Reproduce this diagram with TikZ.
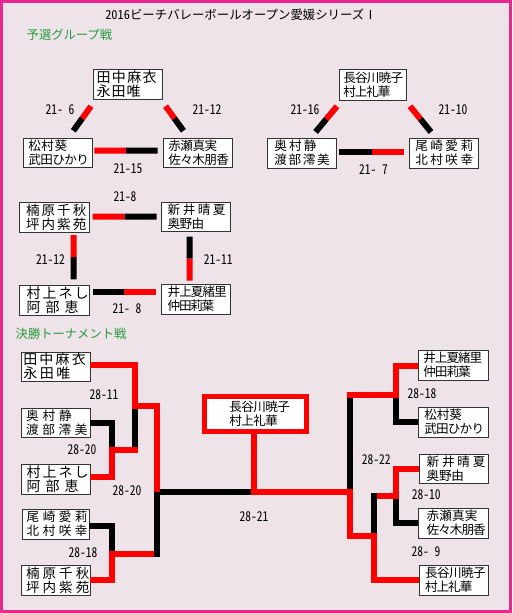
\documentclass[tikz,border=0pt]{standalone}
\usepackage{fontspec}
\usepackage{graphicx}
\setmainfont{Noto Sans CJK JP}
\newfontfamily\lblfont[RawFeature=+hwid]{Noto Sans CJK JP}
\usetikzlibrary{calc}
\definecolor{bgc}{RGB}{237,227,233}
\definecolor{frm}{RGB}{232,40,140}
\definecolor{hdr}{RGB}{40,155,60}
\newcommand\sprd[2]{\def\sprdw{#1pt}\sprdA#2\relax}
\def\sprdA#1{\ifx\relax#1\else\makebox[\sprdw][l]{#1}\expandafter\sprdA\fi}
\newcommand\lblx[1]{\scalebox{0.85}[1]{#1}}
\newcommand\duo[4]{\draw[cw,#3] (#1) -- ($(#1)!0.5!(#2)$); \draw[cw,#4] ($(#1)!0.5!(#2)$) -- (#2);}
\begin{document}
\begin{tikzpicture}[x=1pt,y=-1pt,
  nbox/.style={draw=black!80, line width=1pt, fill=white, inner ysep=0pt, outer sep=0pt, align=left, anchor=north west, font=\fontsize{12.6}{14}\selectfont},
  bigf/.style={font=\fontsize{14}{14}\selectfont},
  midf/.style={font=\fontsize{13.5}{14}\selectfont},
  wbox/.style={draw=red, line width=5pt, fill=white, inner ysep=0pt, outer sep=0pt, align=left, font=\fontsize{12.6}{14}\selectfont},
  lbl/.style={font=\lblfont\fontsize{13.5}{14}\selectfont, inner sep=0pt},
  hd/.style={text=hdr, font=\fontsize{12.3}{14}\selectfont, anchor=west, inner sep=0pt},
  cw/.style={line width=6pt, red, line cap=butt, line join=miter},
  cl/.style={line width=6pt, black, line cap=butt, line join=miter},
]
\useasboundingbox (0,0) rectangle (512,613);
\fill[bgc] (0,0) rectangle (512,613);
\draw[frm, line width=3.4pt] (1.7,1.7) rectangle (510.3,611.3);

% headings
\node[font=\lblfont\fontsize{12.4}{14}\selectfont, inner sep=0pt] (title) at (241,15.2) {2016ビーチバレーボールオープン愛媛シリーズⅠ};
\node[hd] (h1) at (26.5,34.7) {予選グループ戦};
\node[hd] (h2) at (15.5,334) {決勝トーナメント戦};

% group 1
\node[nbox, bigf, minimum width=69pt, minimum height=30pt, inner xsep=3.7pt, text width=61.6pt] (A) at (93,69) {\sprd{15.3}{田中麻衣}\\\sprd{15}{永田唯}};
\node[nbox, minimum width=69pt, minimum height=29pt, inner xsep=5.3pt, text width=58.4pt] (B) at (23,138) {\sprd{13.2}{松村葵}\\\sprd{12}{武田ひかり}};
\node[nbox, minimum width=69pt, minimum height=29pt, inner xsep=5.3pt, text width=58.4pt] (C) at (163,138) {\sprd{12.1}{赤瀬真実}\\\sprd{12}{佐々木朋香}};
% group 2
\node[nbox, minimum width=67pt, minimum height=31pt, inner xsep=4.3pt, text width=58.4pt] (D) at (339,69) {\sprd{11.8}{長谷川暁子}\\\sprd{11.5}{村上礼華}};
\node[nbox, minimum width=69pt, minimum height=30pt, inner xsep=7.3pt, text width=54.4pt] (E) at (267,138) {\sprd{14.8}{奥村静}\\\sprd{14.3}{渡部澪美}};
\node[nbox, minimum width=69pt, minimum height=30pt, inner xsep=6.3pt, text width=56.4pt] (F) at (409,138) {\sprd{15.1}{尾崎愛莉}\\\sprd{15.1}{北村咲幸}};
% group 3
\node[nbox, midf, minimum width=70pt, minimum height=30pt, inner xsep=7pt, text width=56pt] (G) at (19,202) {\sprd{15.6}{楠原千秋}\\\sprd{15.6}{坪内紫苑}};
\node[nbox, minimum width=69pt, minimum height=29pt, inner xsep=6.7pt, text width=55.6pt] (H) at (161,202) {\sprd{15.1}{新井晴夏}\\\sprd{11.9}{奥野由}};
\node[nbox, bigf, minimum width=70pt, minimum height=30pt, inner xsep=7.7pt, text width=54.6pt] (I) at (19,285) {\sprd{16}{村上ネし}\\\sprd{19}{阿部恵}};
\node[nbox, minimum width=69pt, minimum height=30pt, inner xsep=6.7pt, text width=55.6pt] (J) at (161,284) {\sprd{11.6}{井上夏緒里}\\\sprd{11.3}{仲田莉葉}};

% group connectors
\coordinate (ab1) at ($(A.south west)+(-2,7.2)$);
\coordinate (ab2) at ($(B.north east)+(-18.7,-7.2)$);
\duo{ab1}{ab2}{red}{black}
\coordinate (ac1) at ($(A.south east)+(3.6,7.2)$);
\coordinate (ac2) at ($(C.north west)+(20.4,-7.2)$);
\duo{ac1}{ac2}{red}{black}
\coordinate (bc1) at ($(B.east)+(2.3,-1.8)$);
\coordinate (bc2) at ($(C.west)+(-5.3,-1.8)$);
\duo{bc1}{bc2}{red}{black}
\coordinate (de1) at ($(D.south west)+(-2,6.2)$);
\coordinate (de2) at ($(E.north east)+(-20.4,-6)$);
\duo{de1}{de2}{red}{black}
\coordinate (df1) at ($(D.south east)+(4,6.2)$);
\coordinate (df2) at ($(F.north west)+(22,-6)$);
\duo{df1}{df2}{red}{black}
\coordinate (ef1) at ($(E.east)+(3.3,-1)$);
\coordinate (ef2) at ($(F.west)+(-5.3,-1)$);
\duo{ef1}{ef2}{black}{red}
\coordinate (gh1) at ($(G.east)+(3.7,-0.3)$);
\coordinate (gh2) at ($(H.west)+(-4.3,0.2)$);
\duo{gh1}{gh2}{red}{black}
\coordinate (gi1) at ($(G.south east)+(-15.3,3)$);
\coordinate (gi2) at ($(I.north east)+(-15.3,-5.7)$);
\duo{gi1}{gi2}{red}{black}
\coordinate (hj1) at ($(H.south west)+(28.7,5.7)$);
\coordinate (hj2) at ($(J.north west)+(28.7,-3.3)$);
\duo{hj1}{hj2}{black}{red}
\coordinate (ij1) at ($(I.east)+(3.7,-8)$);
\coordinate (ij2) at ($(J.west)+(-5,-7)$);
\duo{ij1}{ij2}{black}{red}

% group scores
\node[lbl] (s1) at (60,110) {\lblx{21-\hspace{0.5em}6}};
\node[lbl] (s2) at (207,110) {\lblx{21-12}};
\node[lbl] (s3) at (128,168.3) {\lblx{21-15}};
\node[lbl] (s4) at (305,110) {\lblx{21-16}};
\node[lbl] (s5) at (453,110) {\lblx{21-10}};
\node[lbl] (s6) at (373.5,169.3) {\lblx{21-\hspace{0.5em}7}};
\node[lbl] (s7) at (125,196.7) {\lblx{21-8}};
\node[lbl] (s8) at (50.5,259.3) {\lblx{21-12}};
\node[lbl] (s9) at (218.3,259.3) {\lblx{21-11}};
\node[lbl] (s10) at (127,308.3) {\lblx{21-\hspace{0.5em}8}};

% tournament boxes
\node[nbox, bigf, minimum width=69pt, minimum height=29pt, inner xsep=2.3pt, text width=64.4pt] (K) at (21,352) {\sprd{16.2}{田中麻衣}\\\sprd{16.5}{永田唯}};
\node[nbox, minimum width=69pt, minimum height=29pt, inner xsep=5pt, text width=59pt] (L) at (21,408) {\sprd{16.6}{奥村静}\\\sprd{16.3}{渡部澪美}};
\node[nbox, bigf, minimum width=69pt, minimum height=30pt, inner xsep=5.7pt, text width=57.6pt] (M) at (21,464) {\sprd{16}{村上ネし}\\\sprd{19}{阿部恵}};
\node[nbox, minimum width=67pt, minimum height=30pt, inner xsep=4.7pt, text width=57.6pt] (N) at (22,509) {\sprd{16.1}{尾崎愛莉}\\\sprd{16.1}{北村咲幸}};
\node[nbox, midf, minimum width=69pt, minimum height=30pt, inner xsep=5pt, text width=59pt] (O) at (21,565) {\sprd{16.6}{楠原千秋}\\\sprd{16.6}{坪内紫苑}};
\node[nbox, minimum width=70pt, minimum height=30pt, inner xsep=5.3pt, text width=59.4pt] (P) at (418,350) {\sprd{11.6}{井上夏緒里}\\\sprd{11.6}{仲田莉葉}};
\node[nbox, minimum width=70pt, minimum height=30pt, inner xsep=6.3pt, text width=57.4pt] (Q) at (418,407) {\sprd{12.5}{松村葵}\\\sprd{11.8}{武田ひかり}};
\node[nbox, minimum width=69pt, minimum height=29pt, inner xsep=7.7pt, text width=53.6pt] (R) at (419,454) {\sprd{15.4}{新井晴夏}\\\sprd{12.3}{奥野由}};
\node[nbox, minimum width=70pt, minimum height=30pt, inner xsep=8.7pt, text width=52.6pt] (S) at (418,508) {\sprd{12.7}{赤瀬真実}\\\sprd{11.6}{佐々木朋香}};
\node[nbox, minimum width=69pt, minimum height=30pt, inner xsep=6pt, text width=57pt] (T) at (419,565) {\sprd{12}{長谷川暁子}\\\sprd{11.6}{村上礼華}};
\node[wbox, minimum width=101.7pt, minimum height=35pt, inner xsep=24.5pt, text width=52.7pt] (W) at (255.65,414) {\sprd{12}{長谷川暁子}\\\sprd{12}{村上礼華}};

% junction coordinates
\coordinate (kmx) at (134.7,406);
\coordinate (lmx) at (112,450);
\coordinate (lme) at (137.7,450);
\coordinate (sfL) at (157,492);
\coordinate (nox) at (111.7,553.7);
\coordinate (noe) at (157,556.7);
\coordinate (fin) at (253.8,492);
\coordinate (fine) at (253.8,495);
\coordinate (pqx) at (395.5,394.7);
\coordinate (pqe) at (347.3,394.7);
\coordinate (rsx) at (396,496.3);
\coordinate (rse) at (376.7,496.3);
\coordinate (rst) at (373.7,493.3);
\coordinate (rtx) at (373.7,536.3);
\coordinate (sfR) at (350.3,492);

% left bracket
\draw[cl] (kmx) -- (kmx |- lmx);
\draw[cl] (L.east) -| (lmx);
\draw[cw] ([yshift=2pt]M.east) -| (lmx) -- (lme);
\draw[cl] ([yshift=-2pt]N.east) -| (nox);
\draw[cw] (O.east) -| (nox) -- (nox -| sfL);
\draw[cl] (fin) -- (sfL) -- (noe);
\draw[cw] ([yshift=1.8pt]K.east) -| (kmx) -- (kmx -| sfL) -- (sfL);

% right bracket
\draw[cl] (sfR) -- (pqx -| sfR);
\draw[cl] (Q.west) -| (pqx);
\draw[cw] ([yshift=-1pt]P.west) -| (pqx) -- (pqe);
\draw[cl] (S.west) -| (rsx);
\draw[cw] (R.west) -| (rsx) -- (rse);
\draw[cl] (rst) -- (rtx);
\draw[cw] (T.west) -| (rtx) -- (rtx -| sfR) -- (sfR) -- (fin);
\draw[cw] (W.south -| fin) -- (fine);

% tournament scores
\node[lbl] (t1) at (104,395) {\lblx{28-11}};
\node[lbl] (t2) at (82,450) {\lblx{28-20}};
\node[lbl] (t3) at (127,491) {\lblx{28-20}};
\node[lbl] (t4) at (83,553) {\lblx{28-18}};
\node[lbl] (t5) at (254,516.7) {\lblx{28-21}};
\node[lbl] (t6) at (422,393.3) {\lblx{28-18}};
\node[lbl] (t7) at (376.3,460) {\lblx{28-22}};
\node[lbl] (t8) at (426.3,495) {\lblx{28-10}};
\node[lbl] (t9) at (426,551.7) {\lblx{28-\hspace{0.5em}9}};
\end{tikzpicture}
\end{document}
